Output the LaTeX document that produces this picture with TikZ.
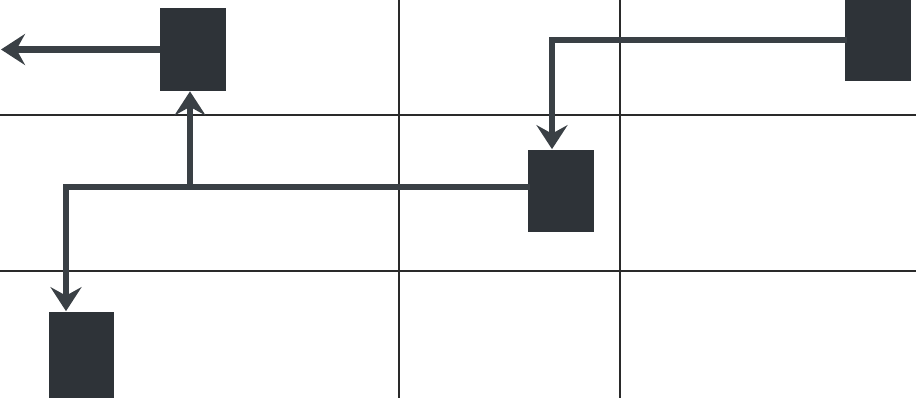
\documentclass[tikz,border=0pt]{standalone}
\usepackage{tikz}
\usetikzlibrary{arrows.meta,positioning}
\definecolor{FBDark}{HTML}{2E3338}
\definecolor{FBLine}{HTML}{3A4045}
\definecolor{FBGrid}{HTML}{2A2A2A}
\tikzset{
  fbBlock/.style={
    rectangle, draw=none, fill=FBDark,
    minimum width=1.32cm, minimum height=1.66cm, inner sep=0pt
  },
  fbArrow/.style={-{Stealth[length=4.8mm, width=6.2mm, inset=1.7mm]}, draw=FBLine, line width=3.5pt},
  fbLink/.style={draw=FBLine, line width=3.5pt, line cap=rect},
  fbGrid/.style={draw=FBGrid, line width=0.9pt}
}
\begin{document}
\begin{tikzpicture}[x=0.02cm, y=-0.02cm]
  \useasboundingbox (0,0) rectangle (916,398);

  % paper grid
  \draw[fbGrid] (0,115) -- (916,115);
  \draw[fbGrid] (0,271) -- (916,271);
  \draw[fbGrid] (399,0) -- (399,398);
  \draw[fbGrid] (620,0) -- (620,398);

  \node[fbBlock] (top) at (193,49.5) {};
  \node[fbBlock] (source) at (877.5,40) {};
  \node[fbBlock] (mid) at (560.5,191) {};
  \node[fbBlock, minimum height=1.74cm] (low) at (81.5,355) {};

  \coordinate (out) at (1,48);
  \coordinate (drop) at (552,40);
  \coordinate (split) at (190,187);
  \coordinate (corner) at (66,187);

  \draw[fbArrow] (top.west) -- (top.west -| out);
  \draw[fbLink] (source.west) -- (drop);
  \draw[fbArrow] (drop) -- (drop |- mid.north);
  \draw[fbLink] (mid.west |- corner) -- (corner);
  \draw[fbArrow] (corner) -- (corner |- low.north);
  \draw[fbArrow] (split) -- (split |- top.south);
\end{tikzpicture}
\end{document}
